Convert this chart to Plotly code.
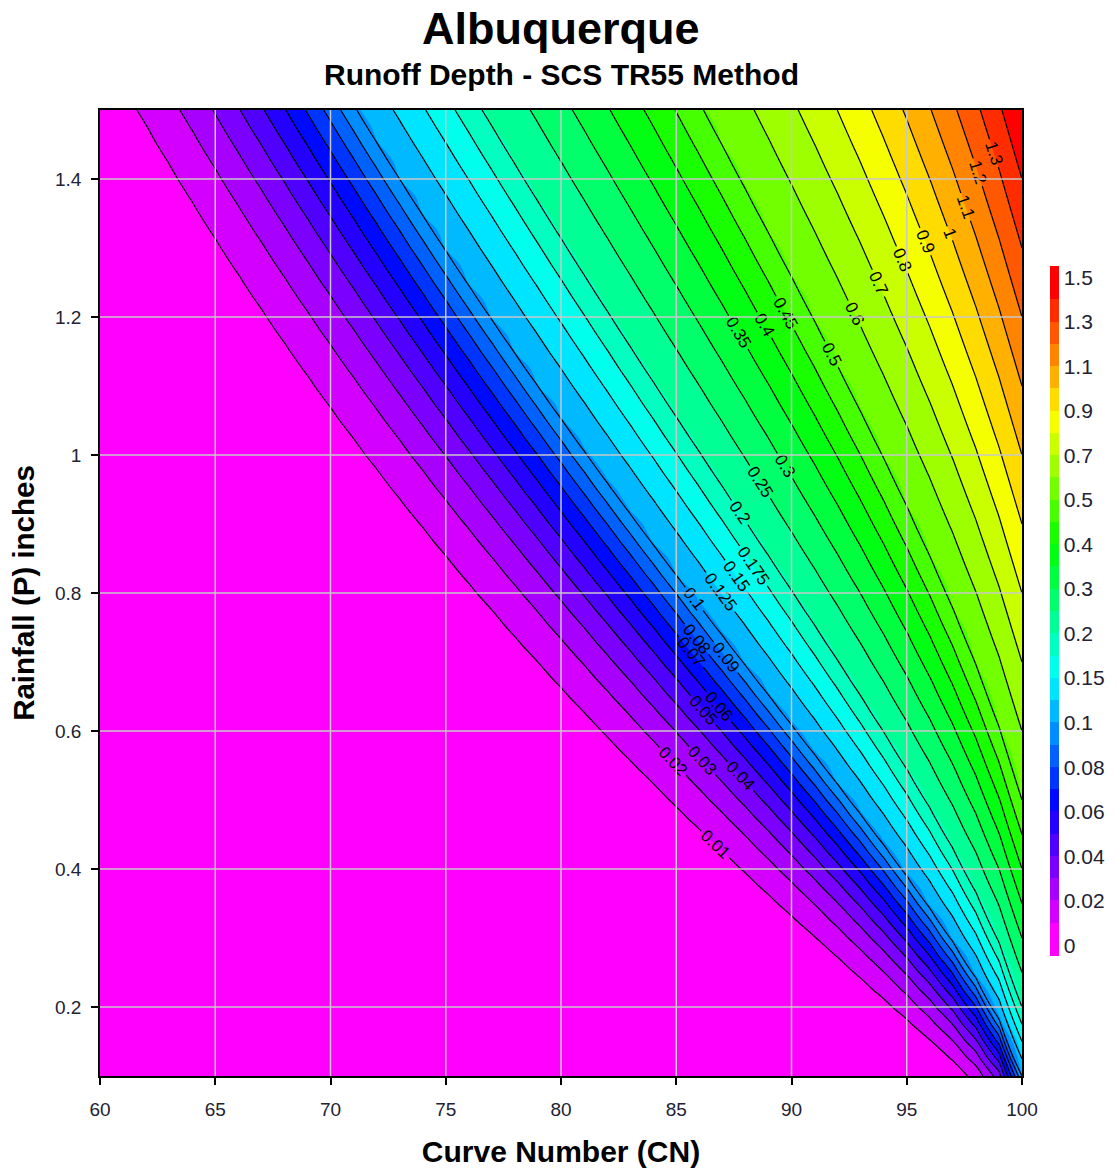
import numpy as np
import plotly.graph_objects as go
import colorsys

# ---- data ----
cn_values = list(range(60, 101))                            # Curve Number axis
p_values = [round(0.1 + 0.025 * i, 4) for i in range(57)]   # Rainfall (in), 0.1 .. 1.5
ia_ratio = 0.2                                              # SCS TR55 initial abstraction ratio
levels = [0, 0.01, 0.02, 0.03, 0.04, 0.05, 0.06, 0.07, 0.08, 0.09, 0.1, 0.125, 0.15,
          0.175, 0.2, 0.25, 0.3, 0.35, 0.4, 0.45, 0.5, 0.6, 0.7, 0.8, 0.9, 1.0, 1.1,
          1.2, 1.3, 1.4, 1.5]
line_levels = levels[1:-1]
cbar_labels = ["0", "0.02", "0.04", "0.06", "0.08", "0.1", "0.15", "0.2", "0.3",
               "0.4", "0.5", "0.7", "0.9", "1.1", "1.3", "1.5"]
x_ticks = [60, 65, 70, 75, 80, 85, 90, 95, 100]
y_ticks = [0.2, 0.4, 0.6, 0.8, 1.0, 1.2, 1.4]
y_ticklabels = ["0.2", "0.4", "0.6", "0.8", "1", "1.2", "1.4"]

# SCS TR55 runoff depth grid
CN, P = np.meshgrid(np.array(cn_values, float), np.array(p_values, float))
S = 1000.0 / CN - 10.0
Ia = ia_ratio * S
Q = np.where(P > Ia, (P - Ia) ** 2 / (P + S - Ia), 0.0)

# map to level-index space so that non-uniform levels get uniform colour bands
nb = len(levels) - 1
Zidx = np.interp(Q, levels, np.arange(len(levels)))
Zidx = np.clip(Zidx, 0.5, nb - 0.001)

def hue_color(h):
    r, g, b = colorsys.hsv_to_rgb((h % 360) / 360.0, 1, 1)
    return "rgb(%d,%d,%d)" % (round(r * 255), round(g * 255), round(b * 255))

n_reg = nb + 1
colorscale = [[0.0, hue_color(300)]]
for k in range(nb):
    colorscale.append([(k + 1) / n_reg, hue_color(300 - 300 * k / (nb - 1))])
colorscale.append([1.0, hue_color(0)])

fig = go.Figure()
fig.add_trace(go.Contour(
    x=cn_values, y=p_values, z=Zidx,
    autocontour=False,
    contours=dict(start=0, end=nb, size=1, coloring="fill", showlines=False),
    line=dict(width=0),
    colorscale=colorscale,
    colorbar=dict(
        tickvals=list(range(0, nb + 1, 2)), ticktext=cbar_labels,
        thickness=9, len=0.714, x=1.03, xanchor="left", y=0.481, yanchor="middle",
        xpad=0, outlinewidth=0, ticks="", tickfont=dict(size=21, color="#222233"),
        ypad=0,
    ),
    hoverinfo="skip",
))

for L in line_levels:
    fig.add_trace(go.Contour(
        x=cn_values, y=p_values, z=Q,
        autocontour=False,
        contours=dict(start=L, end=L, size=1, coloring="none", showlabels=True,
                      labelfont=dict(size=17, color="black", family="Liberation Sans, Arial")),
        line=dict(color="black", width=1.2),
        showscale=False, hoverinfo="skip",
    ))

# gridlines drawn above the filled contours, at the tick positions
shapes = []
for xv in x_ticks[1:-1]:
    shapes.append(dict(type="line", xref="x", yref="paper", x0=xv, x1=xv, y0=0, y1=1,
                       line=dict(color="#c8c8c8", width=1.5), layer="above"))
for yv in y_ticks:
    shapes.append(dict(type="line", xref="paper", yref="y", x0=0, x1=1, y0=yv, y1=yv,
                       line=dict(color="#c8c8c8", width=1.5), layer="above"))

fig.update_layout(
    width=1117, height=1169,
    margin=dict(l=100, r=95, t=110, b=93, autoexpand=False),
    paper_bgcolor="white", plot_bgcolor="white",
    font=dict(family="Liberation Sans, Arial", color="black"),
    showlegend=False,
    shapes=shapes,
    annotations=[
        dict(text="<b>Albuquerque</b>", x=0.5, xref="paper", y=1, yref="paper",
             yanchor="middle", yshift=82, showarrow=False, font=dict(size=45)),
        dict(text="<b>Runoff Depth - SCS TR55 Method</b>", x=0.5, xref="paper",
             y=1, yref="paper", yanchor="middle", yshift=36, showarrow=False,
             font=dict(size=30)),
    ],
)

axis_common = dict(
    showgrid=False, automargin=False,
    showline=True, linecolor="black", linewidth=1.5, mirror=True,
    ticks="outside", ticklen=7, tickcolor="black", tickwidth=1.5,
    tickfont=dict(size=19, color="#222233"),
    layer="above traces", zeroline=False,
)
fig.update_xaxes(range=[60, 100], tickvals=x_ticks, ticklabelstandoff=8,
                 title=dict(text="<b>Curve Number (CN)</b>", font=dict(size=30), standoff=22),
                 **axis_common)
fig.update_yaxes(range=[0.1, 1.5], tickvals=y_ticks, ticktext=y_ticklabels,
                 ticklabelstandoff=6,
                 title=dict(text="<b>Rainfall (P) inches</b>", font=dict(size=29.5), standoff=12),
                 **axis_common)

fig.write_html("out.html", config={"displayModeBar": False})

# remove the browser's default page margin so the figure sits at the window's corner
with open("out.html", "r", encoding="utf-8") as f:
    html = f.read()
html = html.replace("<head>", "<head><style>html,body{margin:0;padding:0;}</style>", 1)
with open("out.html", "w", encoding="utf-8") as f:
    f.write(html)
